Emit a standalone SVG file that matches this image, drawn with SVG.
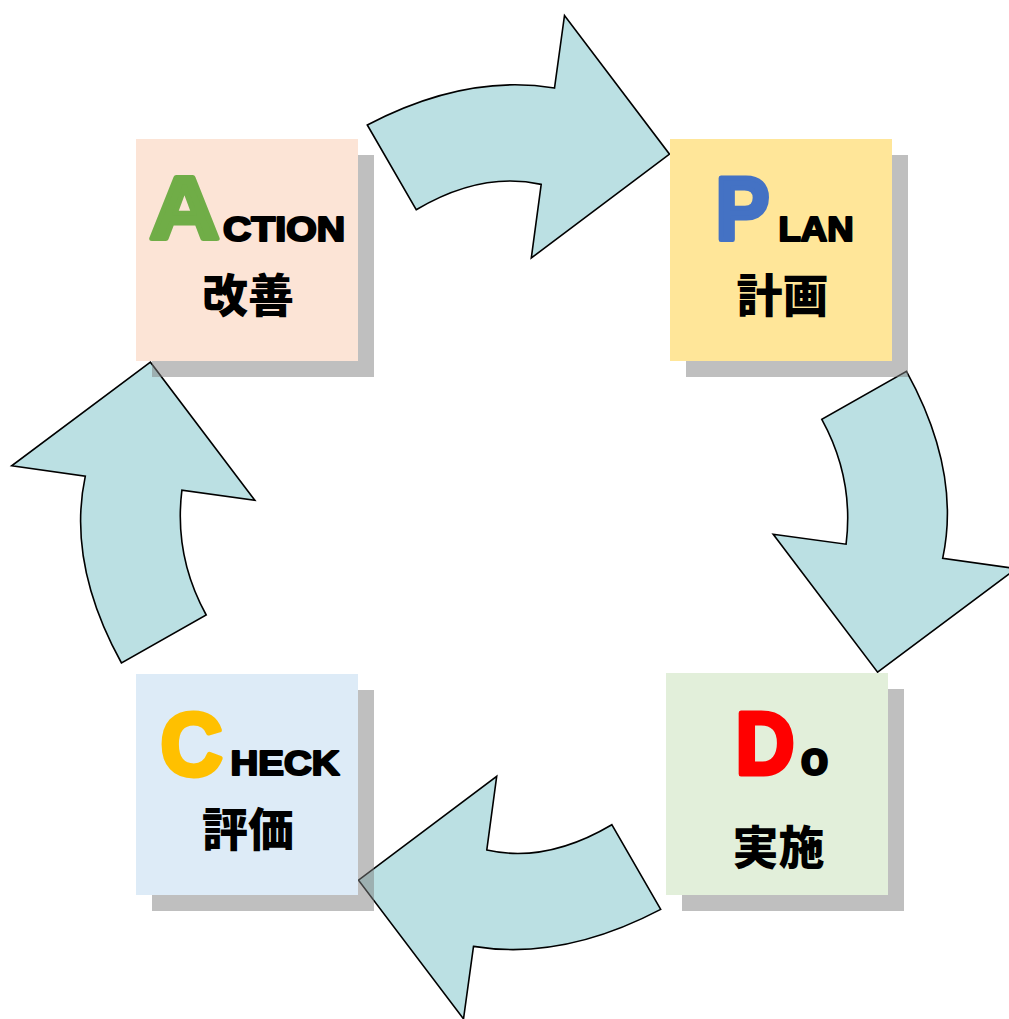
<svg xmlns="http://www.w3.org/2000/svg" width="1009" height="1019" viewBox="0 0 1009 1019">
<style>
.arrow{fill:#BBE0E3;stroke:#000;stroke-width:1.6;stroke-linejoin:miter}
.shadow{fill:#808080;fill-opacity:0.5}
.big{font-family:"Liberation Sans",Arial,sans-serif;font-weight:bold;font-size:89px;stroke-width:5;stroke-linejoin:round}
.small{font-family:"Liberation Sans",Arial,sans-serif;font-weight:bold;font-size:35px;fill:#000;stroke:#000;stroke-width:2.2;stroke-linejoin:round}
.jp{font-family:"Noto Sans CJK JP","Noto Sans CJK SC",sans-serif;font-weight:900;font-size:46px;fill:#000;text-anchor:middle}
</style>
<defs>
<path id="arrowTop" d="M367.3,125 Q465.5,73.5 554.5,88 L564.5,15.5 L669.5,154.2 L531.3,258 L541.2,184.4 Q481.5,171 416.2,209.7 Z"/>
<path id="arrowRight" d="M906.5,371.4 Q961.3,471 942.7,558.3 L1016.3,568.6 L877.6,672.2 L773.2,534.2 L846.1,544.2 Q854.2,478.3 821.8,419.4 Z"/>
</defs>
<g id="connectors">
<use href="#arrowTop" class="arrow"/>
<use href="#arrowRight" class="arrow"/>
<use href="#arrowTop" class="arrow" transform="rotate(180 514 517.2)"/>
<use href="#arrowRight" class="arrow" transform="rotate(180 514 517.2)"/>
</g>
<g id="action">
<rect class="shadow" x="152" y="155" width="222" height="222"/>
<rect x="136" y="139" width="222" height="222" fill="#FCE4D6"/>
<text class="big" x="149.5" y="239.2" fill="#70AD47" stroke="#70AD47" textLength="70" lengthAdjust="spacingAndGlyphs">A</text>
<text class="small" x="223" y="240.6" textLength="122" lengthAdjust="spacingAndGlyphs">CTION</text>
<text class="jp" x="248" y="312">改善</text>
</g>
<g id="plan">
<rect class="shadow" x="686" y="155" width="222" height="222"/>
<rect x="670" y="139" width="222" height="222" fill="#FFE699"/>
<text class="big" x="715.5" y="239.5" fill="#4472C4" stroke="#4472C4" textLength="54" lengthAdjust="spacingAndGlyphs">P</text>
<text class="small" x="778.5" y="240.6" textLength="75" lengthAdjust="spacingAndGlyphs">LAN</text>
<text class="jp" x="782.5" y="312">計画</text>
</g>
<g id="do">
<rect class="shadow" x="682" y="689" width="222" height="222"/>
<rect x="666" y="673" width="222" height="222" fill="#E2EFDA"/>
<text class="big" x="735.5" y="774" fill="#FF0000" stroke="#FF0000" textLength="59" lengthAdjust="spacingAndGlyphs">D</text>
<text class="small" x="800.5" y="775.2" style="font-size:48px" textLength="28" lengthAdjust="spacingAndGlyphs">o</text>
<text class="jp" x="778.5" y="864">実施</text>
</g>
<g id="check">
<rect class="shadow" x="152" y="690" width="222" height="221"/>
<rect x="136" y="674" width="222" height="221" fill="#DDEBF7"/>
<text class="big" x="160.5" y="774.5" fill="#FFC000" stroke="#FFC000" textLength="62" lengthAdjust="spacingAndGlyphs">C</text>
<text class="small" x="230.5" y="774.6" textLength="109" lengthAdjust="spacingAndGlyphs">HECK</text>
<text class="jp" x="248" y="846">評価</text>
</g>
</svg>
